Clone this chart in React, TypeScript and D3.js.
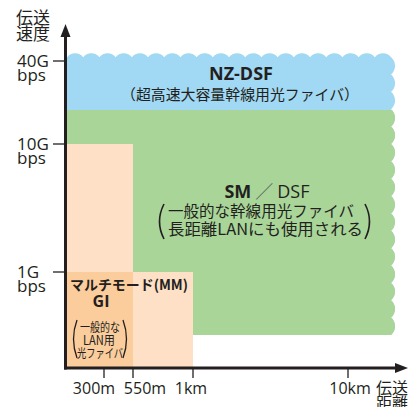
import React from "react";
import * as d3 from "d3";

// ---- data ----
const distanceTickValues = [300, 550, 1000, 10000];
const distanceTickLabels = ["300m", "550m", "1km", "10km"];
const rateTickValues = [1, 10, 40];
const rateTickLabels = ["1G", "10G", "40G"];

const fiberNames = ["NZ-DSF", "SM/DSF", "MM 10G", "MM 1G"];
const fiberMinRate = [22.3, 0.344, 0, 0];
const fiberMaxRate = [41.4, 22.3, 10, 1];
const fiberMaxDistance = [12500, 12500, 550, 1000];

// ---- layout ----
const W = 408;
const H = 407;
const labelDx = [-10, 12, -2, 2];
const FONT = "'Open Sans', 'Noto Sans CJK JP', sans-serif";
const JP = "'Noto Sans CJK JP', sans-serif";
const INK = "#231f20";
const BLUE = "#a1d8f3";
const GREEN = "#a9d599";
const PEACH = "#fde0c5";
const PEACH_DARK = "#fbcc9c";

const xScale = d3
  .scaleLinear()
  .domain([0, 300, 550, 1000, 10000])
  .range([67, 104, 133, 193, 348]);
const yScale = d3
  .scaleLinear()
  .domain([0, 1, 10, 40])
  .range([368, 272, 144, 61]);

function wavyRegion(x0: number, x1: number, y0: number, y1: number) {
  // top wave (bumps up), then right wave (bumps out)
  const period = 16.5;
  const sag = 4;
  const nTop = Math.max(1, Math.round((x1 - x0) / period));
  const stepX = (x1 - x0) / nTop;
  const rX = ((stepX / 2) ** 2 + sag * sag) / (2 * sag);
  const nR = Math.max(1, Math.round((y1 - y0) / 17.5));
  const stepY = (y1 - y0) / nR;
  const rY = ((stepY / 2) ** 2 + sag * sag) / (2 * sag);
  const p = d3.path();
  p.moveTo(x0, y1);
  p.lineTo(x0, y0);
  let s = `M${x0},${y1}L${x0},${y0}`;
  for (let i = 1; i <= nTop; i++) {
    s += `A${rX},${rX} 0 0 1 ${x0 + stepX * i},${y0}`;
  }
  for (let i = 1; i <= nR; i++) {
    s += `A${rY},${rY} 0 0 1 ${x1},${y0 + stepY * i}`;
  }
  s += "Z";
  return s;
}

export default function App() {
  const x0 = xScale(0);
  const y0 = yScale(0);
  const nzTop = yScale(fiberMaxRate[0]);
  const smTop = yScale(fiberMaxRate[1]);
  const smBottom = yScale(fiberMinRate[1]);
  const right = xScale(fiberMaxDistance[0]);
  const wave = wavyRegion(x0, right, nzTop, smBottom);

  const mm = [2, 3].map((i) => ({
    name: fiberNames[i],
    x: x0,
    w: xScale(fiberMaxDistance[i]) - x0,
    y: yScale(fiberMaxRate[i]),
    h: y0 - yScale(fiberMaxRate[i]),
  }));
  const overlapX = Math.min(fiberMaxDistance[2], fiberMaxDistance[3]);
  const overlapY = Math.min(fiberMaxRate[2], fiberMaxRate[3]);

  const axisX = x0 - 1.5;
  const axisY = y0;

  return (
    <svg width={W} height={H} style={{ position: "absolute", left: 0, top: 0 }}>
      <defs>
        <clipPath id="smClip">
          <rect x={0} y={smTop} width={W} height={H} />
        </clipPath>
      </defs>
      <rect width={W} height={H} fill="#fff" />
      {/* regions */}
      <path d={wave} fill={BLUE} />
      <path d={wave} fill={GREEN} clipPath="url(#smClip)" />
      {mm.map((r) => (
        <rect key={r.name} x={r.x} y={r.y} width={r.w} height={r.h} fill={PEACH} />
      ))}
      <rect
        x={x0}
        y={yScale(overlapY)}
        width={xScale(overlapX) - x0}
        height={y0 - yScale(overlapY)}
        fill={PEACH_DARK}
      />

      {/* axes */}
      <line x1={axisX} y1={y0 + 1.5} x2={axisX} y2={34} stroke={INK} strokeWidth={3} />
      <path d={`M${axisX},24L${axisX + 5},37L${axisX - 5},37Z`} fill={INK} />
      <line x1={axisX - 1.5} y1={axisY} x2={399} y2={axisY} stroke={INK} strokeWidth={3} />
      <path d={`M408,${axisY}L395,${axisY - 5}L395,${axisY + 5}Z`} fill={INK} />

      {rateTickValues.map((v, i) => (
        <g key={v}>
          <line x1={53} x2={axisX} y1={yScale(v)} y2={yScale(v)} stroke={INK} strokeWidth={1.3} />
          <text x={17} y={yScale(v) + 6} fontFamily={FONT} fontSize={17} fill={INK}>
            {rateTickLabels[i]}
          </text>
          <text x={17} y={yScale(v) + 20} fontFamily={FONT} fontSize={17} fill={INK}>
            bps
          </text>
        </g>
      ))}
      {distanceTickValues.map((v, i) => (
        <g key={v}>
          <line x1={xScale(v)} x2={xScale(v)} y1={axisY} y2={378} stroke={INK} strokeWidth={1.3} />
          <text
            x={xScale(v) + labelDx[i]}
            y={394}
            textAnchor="middle"
            fontFamily={FONT}
            fontSize={16}
            fill={INK}
          >
            {distanceTickLabels[i]}
          </text>
        </g>
      ))}

      {/* axis titles */}
      <text x={16} y={24} fontFamily={JP} fontSize={17} fill={INK}>伝送</text>
      <text x={16} y={40} fontFamily={JP} fontSize={17} fill={INK}>速度</text>
      <text x={376} y={394} fontFamily={JP} fontSize={16} fill={INK}>伝送</text>
      <text x={376} y={409} fontFamily={JP} fontSize={16} fill={INK}>距離</text>

      {/* NZ-DSF label */}
      <text x={241} y={80} textAnchor="middle" fontFamily={FONT} fontWeight="bold" fontSize={18} fill={INK}>
        NZ-DSF
      </text>
      <text x={240} y={100} textAnchor="middle" fontFamily={JP} fontSize={15} fill={INK}
        textLength={238} lengthAdjust="spacingAndGlyphs">
        （超高速大容量幹線用光ファイバ）
      </text>

      {/* SM label */}
      <text x={267} y={198} textAnchor="middle" fontFamily={FONT} fontSize={18} fill={INK}>
        <tspan fontWeight="bold">SM</tspan>
        <tspan fontFamily={JP} fontWeight={300} fill="#555"> ／ </tspan>
        <tspan>DSF</tspan>
      </text>
      <text x={168} y={217} fontFamily={JP} fontSize={15.5} fill={INK} textLength={186} lengthAdjust="spacingAndGlyphs">
        一般的な幹線用光ファイバ
      </text>
      <text x={168} y={235} fontFamily={JP} fontSize={15.5} fill={INK} textLength={195} lengthAdjust="spacingAndGlyphs">
        長距離LANにも使用される
      </text>
      <path d="M164,204Q155,221.5 164,239" fill="none" stroke={INK} strokeWidth={1.6} />
      <path d="M365,204Q374,221.5 365,239" fill="none" stroke={INK} strokeWidth={1.6} />

      {/* MM label */}
      <text x={129} y={290} textAnchor="middle" fontFamily={JP} fontWeight="bold" fontSize={14} fill={INK}
        textLength={118} lengthAdjust="spacingAndGlyphs">
        マルチモード(MM)
      </text>
      <text x={101} y={307} textAnchor="middle" fontFamily={FONT} fontWeight="bold" fontSize={16} fill={INK}>
        GI
      </text>
      <text x={100} y={332} textAnchor="middle" fontFamily={JP} fontSize={12.5} fill={INK}
        textLength={40} lengthAdjust="spacingAndGlyphs">一般的な</text>
      <text x={99} y={345} textAnchor="middle" fontFamily={JP} fontSize={12.5} fill={INK}
        textLength={32} lengthAdjust="spacingAndGlyphs">LAN用</text>
      <text x={100} y={358} textAnchor="middle" fontFamily={JP} fontSize={12.5} fill={INK}
        textLength={46} lengthAdjust="spacingAndGlyphs">光ファイバ</text>
      <path d="M77,320Q70,339 77,358" fill="none" stroke={INK} strokeWidth={1.3} />
      <path d="M123,320Q130,339 123,358" fill="none" stroke={INK} strokeWidth={1.3} />
    </svg>
  );
}
